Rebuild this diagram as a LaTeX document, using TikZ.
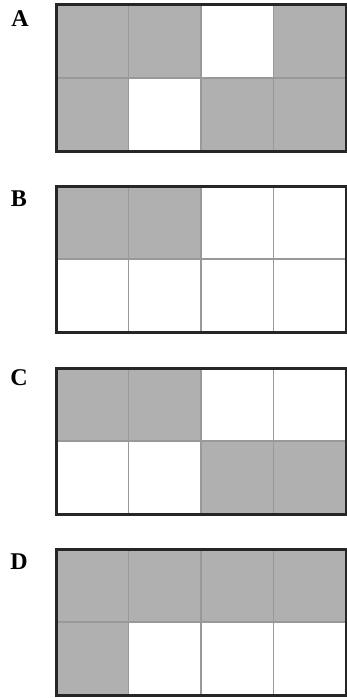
\documentclass[tikz,border=0pt]{standalone}
\usepackage{fontspec}
\setmainfont{Liberation Serif}
\usepackage{xcolor}
\usepackage{tikz}

\definecolor{cellgray}{RGB}{176,176,176}

\begin{document}
\begin{tikzpicture}[
  x=1pt, y=-1pt,
  on/.style={fill=cellgray},
  gridline/.style={draw=gray!80, line width=1.6pt},
  frame/.style={draw=black!85, line width=3pt},
  optlabel/.style={font=\fontsize{24}{26}\selectfont\bfseries, anchor=center},
]
% Coordinate system: 1 unit = 1 pixel of the reference, y grows downward.
% Each option is a 4 x 2 grid of cells, left edge at \xl.
\def\xl{56}
\def\cw{72.5}
\def\ch{73}
\useasboundingbox (0,0) rectangle (347,698);

% ─── Option labels ────────────────────────────────────────────────────────
\node[optlabel] (labA) at (20, 19)  {A};
\node[optlabel] (labB) at (19, 199) {B};
\node[optlabel] (labC) at (19, 378) {C};
\node[optlabel] (labD) at (19, 562) {D};

% ─── Grids ────────────────────────────────────────────────────────────────
% {top edge / list of shaded cells as column/row}
\foreach \ytop/\cells in {5/{1/1,2/1,4/1,1/2,3/2,4/2},
                          186/{1/1,2/1},
                          368/{1/1,2/1,3/2,4/2},
                          549/{1/1,2/1,3/1,4/1,1/2}} {
  \foreach \c/\r in \cells
    \fill[on] (\xl+\c*\cw-\cw, \ytop+\r*\ch-\ch) rectangle ++(\cw, \ch);
  % inner lines
  \foreach \c in {1,2,3}
    \draw[gridline] (\xl+\c*\cw, \ytop) -- ++(0, 2*\ch);
  \draw[gridline] (\xl, \ytop+\ch) -- ++(4*\cw, 0);
  % outer frame
  \draw[frame] (\xl, \ytop) rectangle ++(4*\cw, 2*\ch);
}

\end{tikzpicture}
\end{document}
